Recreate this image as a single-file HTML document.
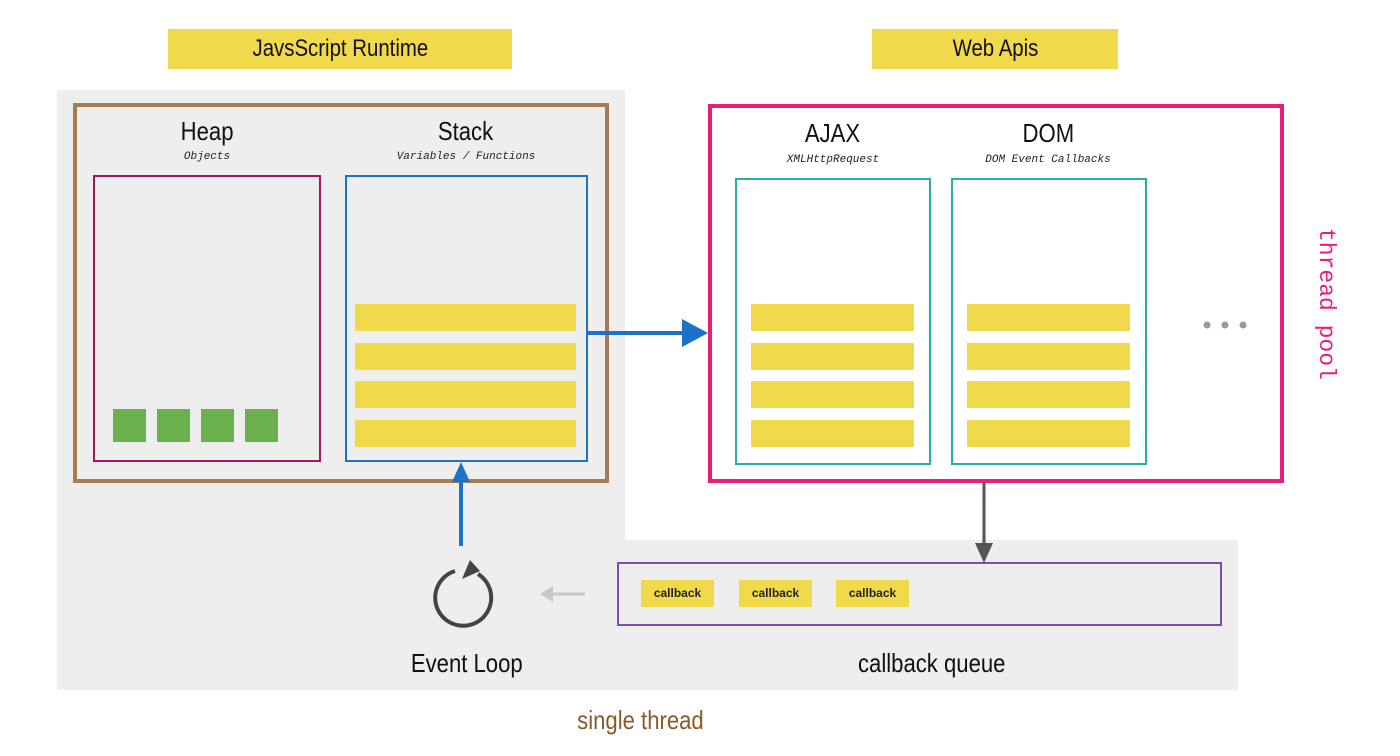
<!DOCTYPE html>
<html><head><meta charset="utf-8"><style>
body{margin:0;width:1400px;height:756px;background:#fff;position:relative;overflow:hidden;font-family:"Liberation Sans",sans-serif;}
div{position:absolute;box-sizing:border-box;}
.y{background:#f0da4c;}
.t{text-align:center;color:#111;}
.n{display:inline-block;transform:scaleX(0.85);}
.sub{font-family:"Liberation Mono",monospace;font-style:italic;font-size:11px;text-align:center;color:#222;}
.cb{background:#f0da4c;font-size:12px;text-align:center;line-height:27px;font-weight:bold;color:#222;}
</style></head><body>
<div style="left:57px;top:90px;width:568px;height:600px;background:#eeeeee"></div>
<div style="left:57px;top:540px;width:1181px;height:150px;background:#eeeeee"></div>
<div class="y t" style="left:168px;top:29px;width:344px;height:40px;font-size:24px;line-height:40px;"><span class="n">JavsScript Runtime</span></div>
<div class="y t" style="left:872px;top:29px;width:246px;height:40px;font-size:24px;line-height:40px;"><span class="n">Web Apis</span></div>

<div style="left:73px;top:103px;width:536px;height:380px;border:4px solid #a67c52"></div>
<div class="t" style="left:107px;top:116px;width:200px;font-size:26px"><span class="n">Heap</span></div>
<div class="sub" style="left:107px;top:151px;width:200px">Objects</div>
<div style="left:93px;top:175px;width:228px;height:287px;border:2px solid #a3155f"></div>
<div style="left:113px;top:409px;width:33px;height:33px;background:#6ab04c"></div>
<div style="left:157px;top:409px;width:33px;height:33px;background:#6ab04c"></div>
<div style="left:201px;top:409px;width:33px;height:33px;background:#6ab04c"></div>
<div style="left:245px;top:409px;width:33px;height:33px;background:#6ab04c"></div>
<div class="t" style="left:366px;top:116px;width:200px;font-size:26px"><span class="n">Stack</span></div>
<div class="sub" style="left:346px;top:151px;width:240px">Variables / Functions</div>
<div style="left:345px;top:175px;width:243px;height:287px;border:2px solid #1a73c8"></div>
<div class="y" style="left:355px;top:304px;width:221px;height:27px"></div>
<div class="y" style="left:355px;top:343px;width:221px;height:27px"></div>
<div class="y" style="left:355px;top:381px;width:221px;height:27px"></div>
<div class="y" style="left:355px;top:420px;width:221px;height:27px"></div>

<div style="left:708px;top:104px;width:576px;height:379px;border:4px solid #e91e7a"></div>
<div class="t" style="left:733px;top:118px;width:200px;font-size:26px"><span class="n">AJAX</span></div>
<div class="sub" style="left:733px;top:154px;width:200px">XMLHttpRequest</div>
<div style="left:735px;top:178px;width:196px;height:287px;border:2px solid #26b0a6"></div>
<div class="t" style="left:948px;top:118px;width:200px;font-size:26px"><span class="n">DOM</span></div>
<div class="sub" style="left:938px;top:154px;width:220px">DOM Event Callbacks</div>
<div style="left:951px;top:178px;width:196px;height:287px;border:2px solid #26b0a6"></div>
<div class="y" style="left:751px;top:304px;width:163px;height:27px"></div>
<div class="y" style="left:751px;top:343px;width:163px;height:27px"></div>
<div class="y" style="left:751px;top:381px;width:163px;height:27px"></div>
<div class="y" style="left:751px;top:420px;width:163px;height:27px"></div>
<div class="y" style="left:967px;top:304px;width:163px;height:27px"></div>
<div class="y" style="left:967px;top:343px;width:163px;height:27px"></div>
<div class="y" style="left:967px;top:381px;width:163px;height:27px"></div>
<div class="y" style="left:967px;top:420px;width:163px;height:27px"></div>
<div style="left:1341px;top:228px;width:150px;height:30px;transform:rotate(90deg);transform-origin:0 0;color:#e91e7a;font-family:'Liberation Mono',monospace;font-size:23px;line-height:30px;white-space:nowrap">thread pool</div>

<div style="left:617px;top:562px;width:605px;height:64px;border:2px solid #7b4fa8"></div>
<div class="cb" style="left:641px;top:580px;width:73px;height:27px">callback</div>
<div class="cb" style="left:739px;top:580px;width:73px;height:27px">callback</div>
<div class="cb" style="left:836px;top:580px;width:73px;height:27px">callback</div>
<div class="t" style="left:367px;top:648px;width:200px;font-size:26px"><span class="n">Event Loop</span></div>
<div class="t" style="left:782px;top:648px;width:300px;font-size:26px"><span class="n">callback queue</span></div>
<div class="t" style="left:490px;top:705px;width:300px;font-size:26px;color:#8a5a2b"><span class="n">single thread</span></div>

<svg width="1400" height="756" style="position:absolute;left:0;top:0">
<line x1="587" y1="333" x2="690" y2="333" stroke="#1a73c8" stroke-width="4"/>
<polygon points="708,333 682,319 682,347" fill="#1a73c8"/>
<line x1="984" y1="483" x2="984" y2="548" stroke="#555" stroke-width="3"/>
<polygon points="984,563 975,543 993,543" fill="#555"/>
<line x1="461" y1="546" x2="461" y2="478" stroke="#1a73c8" stroke-width="4"/>
<polygon points="461,462 452,482 470,482" fill="#1a73c8"/>
<line x1="585" y1="594" x2="550" y2="594" stroke="#c8c8c8" stroke-width="3"/>
<polygon points="540,594 553,586 553,602" fill="#c8c8c8"/>
<path d="M478,574 A28,28 0 1 1 455,571" fill="none" stroke="#444" stroke-width="4"/>
<polygon points="470,560 480,571 462,579" fill="#444"/>
<circle cx="1207" cy="325" r="3.5" fill="#999"/><circle cx="1225" cy="325" r="3.5" fill="#999"/><circle cx="1243" cy="325" r="3.5" fill="#999"/>
</svg>
</body></html>
